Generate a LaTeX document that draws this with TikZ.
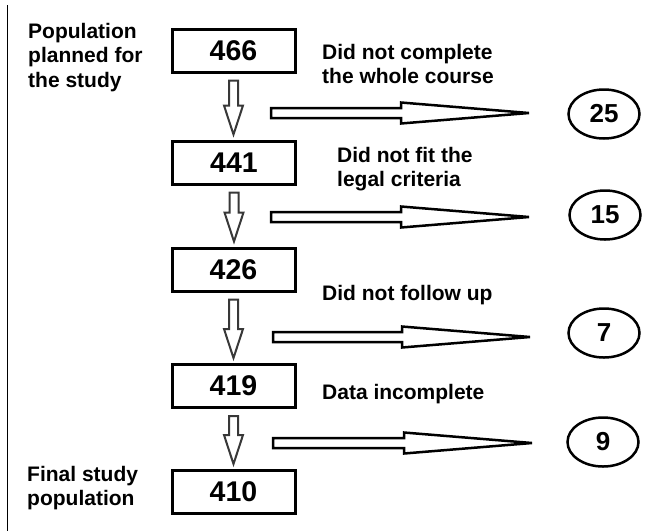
\documentclass[tikz,border=0pt]{standalone}
\usepackage{fontspec}
\setmainfont{Liberation Sans}
\usetikzlibrary{calc,shapes.geometric}

\tikzset{
  countbox/.style={draw=black, line width=3pt, fill=white, rectangle,
    minimum width=123pt, minimum height=43pt, inner sep=0pt,
    font=\fontsize{28.5}{30}\selectfont\bfseries},
  lossoval/.style={draw=black, line width=2.5pt, ellipse,
    minimum width=71pt, minimum height=49pt, inner sep=0pt,
    font=\fontsize{26}{28}\selectfont\bfseries},
  label/.style={anchor=north west, align=left, inner sep=0pt,
    font=\fontsize{21}{24.5}\selectfont\bfseries},
  downarr/.style={draw=black!78, line width=2pt, fill=white, line join=miter},
  sidearr/.style={draw=black, line width=2.5pt, fill=white, line join=miter}
}

% hollow vertical arrow between two stacked boxes
\newcommand\flowdown[2]{%
  \path[downarr] let \p1=($(#1.south)+(0,-7pt)$), \p2=($(#2.north)+(0,5pt)$) in
    (\x1-4.5pt,\y1) -- (\x1+4.5pt,\y1) -- (\x1+4.5pt,\y2+29pt)
    -- (\x1+9.5pt,\y2+29pt) -- (\x1,\y2) -- (\x1-9.5pt,\y2+29pt)
    -- (\x1-4.5pt,\y2+29pt) -- cycle;}

% long hollow side arrow with a narrow head
\newcommand\flowside[2]{%
  \path[sidearr] let \p1=(#1), \p2=(#2) in
    (\x1,\y1+5pt) -- (\x2-128pt,\y1+5pt) -- (\x2-128pt,\y1+10.5pt)
    -- (\x2,\y1) -- (\x2-128pt,\y1-10.5pt) -- (\x2-128pt,\y1-5pt)
    -- (\x1,\y1-5pt) -- cycle;}

\begin{document}
\begin{tikzpicture}[x=1pt, y=-1pt]
  \useasboundingbox (0,0) rectangle (652,531);

  % left margin rule
  \draw[line width=1pt] (7.5,5) -- (7.5,531);

  % counts at each stage
  \node[countbox] (n466) at (233.5,50.5) {466};
  \node[countbox] (n441) at (234,162.5) {441};
  \node[countbox] (n426) at (233.5,269.5) {426};
  \node[countbox] (n419) at (233.5,386) {419};
  \node[countbox] (n410) at (233.5,492) {410};

  % excluded counts
  \node[lossoval] (x25) at (604,114) {25};
  \node[lossoval] (x15) at (605,215) {15};
  \node[lossoval] (x7)  at (604,333) {7};
  \node[lossoval] (x9)  at (603,442) {9};

  % labels
  \node[label] (lpop) at (28,23) {Population\\planned for\\the study};
  \node[label] (lfin) at (27,466) {Final study\\population};
  \node[label] (r1) at (322,44) {Did not complete\\the whole course};
  \node[label] (r2) at (337,147) {Did not fit the\\legal criteria};
  \node[label] (r3) at (322,285) {Did not follow up};
  \node[label] (r4) at (322,384) {Data incomplete};

  % downward flow
  \flowdown{n466}{n441}
  \flowdown{n441}{n426}
  \flowdown{n426}{n419}
  \flowdown{n419}{n410}

  % side arrows towards the excluded counts
  \coordinate (s1) at (271,113);  \coordinate (t1) at (529,113);
  \coordinate (s2) at (271,217);  \coordinate (t2) at (529,217);
  \coordinate (s3) at (273,337);  \coordinate (t3) at (530,337);
  \coordinate (s4) at (273,443);  \coordinate (t4) at (532,443);
  \flowside{s1}{t1}
  \flowside{s2}{t2}
  \flowside{s3}{t3}
  \flowside{s4}{t4}
\end{tikzpicture}
\end{document}
